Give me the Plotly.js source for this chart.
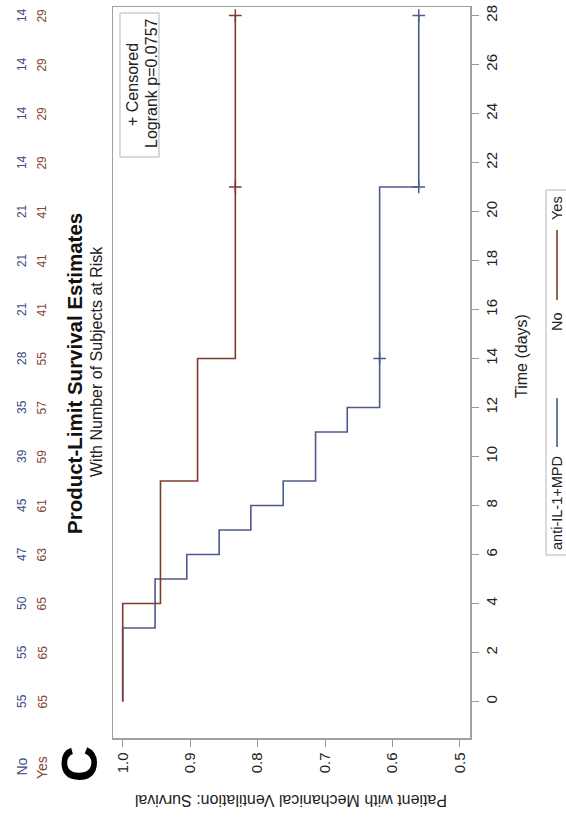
<!DOCTYPE html>
<html>
<head>
<meta charset="utf-8">
<script src="https://cdn.plot.ly/plotly-3.0.1.min.js"></script>
<style>html,body{margin:0;padding:0;background:#fff;}#chart{width:566px;height:821px;}</style>
</head>
<body>
<div id="chart"></div>
<script>
// ---- data ----
const timeTicks = [0,2,4,6,8,10,12,14,16,18,20,22,24,26,28];
const atRiskNo  = [55,55,50,47,45,39,35,28,21,21,21,14,14,14,14];
const atRiskYes = [65,65,65,63,61,59,57,55,41,41,41,29,29,29,29];
const noTimes = [0,3,5,6,7,8,9,11,12,21,28];
const noSurv  = [1.0,0.952,0.905,0.857,0.810,0.762,0.714,0.667,0.619,0.561,0.561];
const yesTimes = [0,4,9,14,28];
const yesSurv  = [1.0,0.944,0.889,0.833,0.833];
const noCensorTimes = [14,21,28];
const noCensorSurv  = [0.619,0.561,0.561];
const yesCensorTimes = [21,28];
const yesCensorSurv  = [0.833,0.833];
const survTicks = [1.0,0.9,0.8,0.7,0.6,0.5];
const survTickText = ['1.0','0.9','0.8','0.7','0.6','0.5'];

// ---- styling ----
const blue = '#4d5a8c', brown = '#7d3b2d';
const blueTxt = '#3e4a82', brownTxt = '#8a4535';
const FONT = 'Liberation Sans, Arial, sans-serif';
const W=566,H=821,L=113,R=96,T=7,B=83;
const pw=W-L-R, ph=H-T-B;
function px(x){return (x-L)/pw;}
function py(y){return (H-B-y)/ph;}

const traces = [
  {x:noSurv, y:noTimes, type:'scatter', mode:'lines', line:{shape:'vh', color:blue, width:1.6}, hoverinfo:'skip'},
  {x:yesSurv, y:yesTimes, type:'scatter', mode:'lines', line:{shape:'vh', color:brown, width:1.6}, hoverinfo:'skip'},
  {x:noCensorSurv, y:noCensorTimes, type:'scatter', mode:'markers',
   marker:{symbol:'cross-thin', size:9, color:blue, line:{color:blue, width:1.5}}, hoverinfo:'skip'},
  {x:yesCensorSurv, y:yesCensorTimes, type:'scatter', mode:'markers',
   marker:{symbol:'cross-thin', size:9, color:brown, line:{color:brown, width:1.5}}, hoverinfo:'skip'}
];

function txt(o){ return Object.assign({showarrow:false, xanchor:'center', yanchor:'middle', textangle:-90}, o); }
const ann = [];
timeTicks.forEach((t,i)=>{
  ann.push(txt({xref:'paper', yref:'y', x:px(21.5), y:t, text:String(atRiskNo[i]),
            font:{family:FONT, size:12, color:blueTxt}}));
  ann.push(txt({xref:'paper', yref:'y', x:px(42), y:t, text:String(atRiskYes[i]),
            font:{family:FONT, size:12, color:brownTxt}}));
});
ann.push(txt({xref:'paper', yref:'paper', x:px(21.5), y:py(767), text:'No', font:{family:FONT, size:14, color:blueTxt}}));
ann.push(txt({xref:'paper', yref:'paper', x:px(42), y:py(768), text:'Yes', font:{family:FONT, size:14, color:brownTxt}}));
ann.push(txt({xref:'paper', yref:'paper', x:px(80), y:py(764), text:'<b>C</b>', font:{family:FONT, size:50, color:'#000'}}));
ann.push(txt({xref:'paper', yref:'paper', x:px(75), y:py(374), text:'<b>Product-Limit Survival Estimates</b>', font:{family:FONT, size:20.5, color:'#111'}}));
ann.push(txt({xref:'paper', yref:'paper', x:px(96), y:py(362), text:'With Number of Subjects at Risk', font:{family:FONT, size:16, color:'#222'}}));
ann.push(txt({xref:'paper', yref:'paper', x:px(132), y:py(85), text:'+ Censored', font:{family:FONT, size:16, color:'#222'}}));
ann.push(txt({xref:'paper', yref:'paper', x:px(151), y:py(83), text:'Logrank p=0.0757', font:{family:FONT, size:16, color:'#222'}}));
ann.push(txt({xref:'paper', yref:'paper', x:px(521), y:py(356), text:'Time (days)', font:{family:FONT, size:16, color:'#222'}}));
ann.push(txt({xref:'paper', yref:'paper', x:px(291), y:py(800), text:'Patient with Mechanical Ventilation: Survival', textangle:180, font:{family:FONT, size:16, color:'#222'}}));
ann.push(txt({xref:'paper', yref:'paper', x:px(557), y:py(503), text:'anti-IL-1+MPD', font:{family:FONT, size:14.5, color:'#222'}}));
ann.push(txt({xref:'paper', yref:'paper', x:px(557), y:py(322), text:'No', font:{family:FONT, size:14.5, color:'#222'}}));
ann.push(txt({xref:'paper', yref:'paper', x:px(557), y:py(208), text:'Yes', font:{family:FONT, size:14.5, color:'#222'}}));

const shapes = [
  {type:'rect', xref:'paper', yref:'paper', x0:px(120), x1:px(159), y0:py(157), y1:py(13), line:{color:'#b5b5b5', width:1}},
  {type:'rect', xref:'paper', yref:'paper', x0:px(546), x1:px(572), y0:py(555), y1:py(190), line:{color:'#b5b5b5', width:1}},
  {type:'line', xref:'paper', yref:'paper', x0:px(557), x1:px(557), y0:py(447), y1:py(398), line:{color:blue, width:1.6}},
  {type:'line', xref:'paper', yref:'paper', x0:px(557), x1:px(557), y0:py(300), y1:py(230), line:{color:brown, width:1.6}}
];

const layout = {
  width:W, height:H, margin:{l:L, r:R, t:T, b:B}, showlegend:false,
  paper_bgcolor:'#fff', plot_bgcolor:'#fff',
  font:{family:FONT, color:'#222'},
  xaxis:{range:[1.0144,0.485], tickvals:survTicks, ticktext:survTickText, tickangle:-90,
         ticks:'outside', ticklen:7, tickcolor:'#999', showgrid:false, zeroline:false,
         showline:true, mirror:true, linecolor:'#a0a0a0', linewidth:1.5,
         tickfont:{family:FONT, size:15, color:'#222'}},
  yaxis:{range:[-1.49,28.35], side:'right', tickvals:timeTicks, tickangle:-90,
         ticks:'outside', ticklen:7, tickcolor:'#999', showgrid:false, zeroline:false,
         showline:true, mirror:true, linecolor:'#a0a0a0', linewidth:1.5,
         tickfont:{family:FONT, size:15, color:'#222'}},
  annotations:ann, shapes:shapes
};
Plotly.newPlot('chart', traces, layout, {staticPlot:true, displayModeBar:false});
</script>
</body>
</html>
